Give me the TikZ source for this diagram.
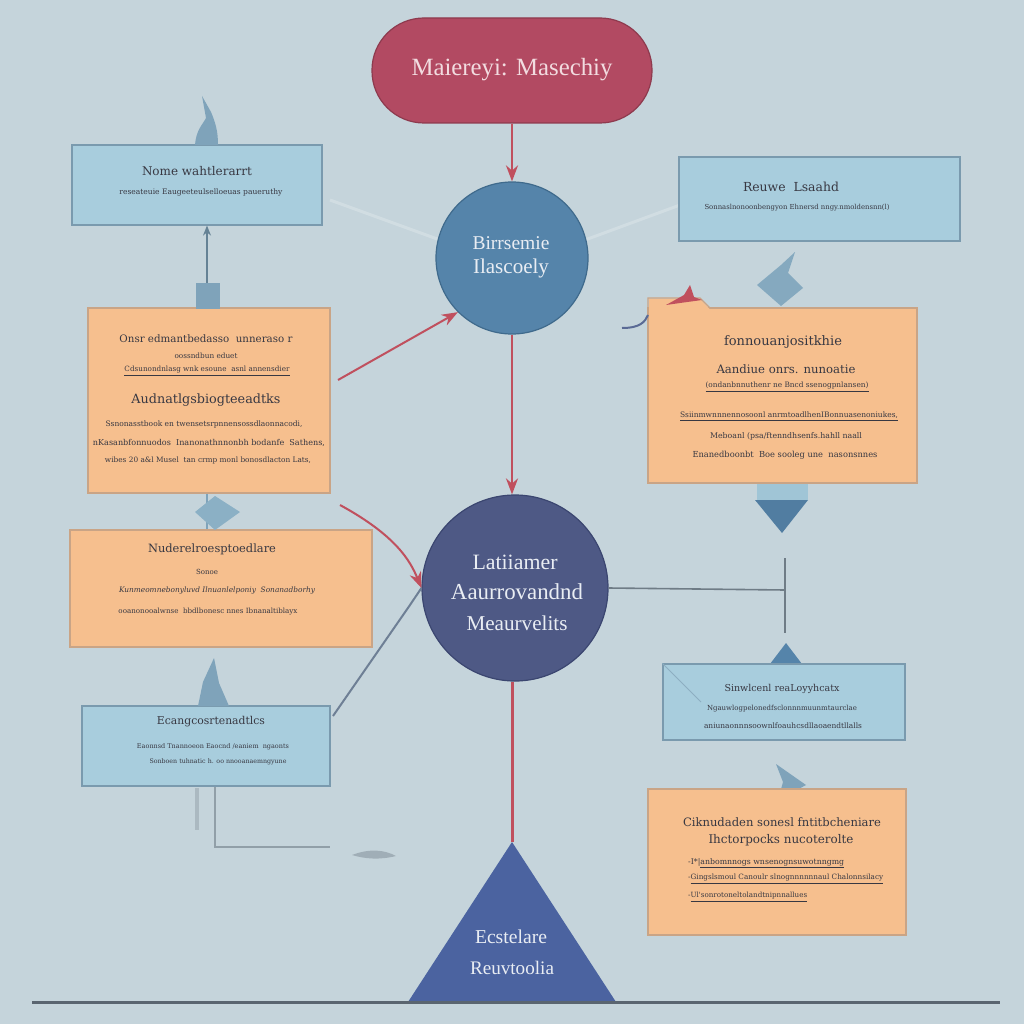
\documentclass[tikz,border=0pt]{standalone}
\usepackage{fontspec}
\setmainfont{Liberation Serif}
\newfontfamily\boxfont{DejaVu Serif}
\usetikzlibrary{arrows.meta,shapes.geometric,calc}
\definecolor{bg}{HTML}{C5D4DB}
\definecolor{pillc}{HTML}{B24A62}
\definecolor{pillb}{HTML}{8E3A4E}
\definecolor{pilltxt}{HTML}{F2DCE0}
\definecolor{circa}{HTML}{5584AA}
\definecolor{circab}{HTML}{3F6A8C}
\definecolor{circb}{HTML}{4E5985}
\definecolor{circbb}{HTML}{3B4670}
\definecolor{trif}{HTML}{4B63A0}
\definecolor{lblue}{HTML}{A8CDDD}
\definecolor{lbord}{HTML}{7A9AAE}
\definecolor{orng}{HTML}{F6BF8E}
\definecolor{obord}{HTML}{C9A486}
\definecolor{redl}{HTML}{C0505E}
\definecolor{txt}{HTML}{383842}
\definecolor{ltxt}{HTML}{E9EDF3}
\definecolor{deco}{HTML}{7FA3BA}
\definecolor{gline}{HTML}{6F7C86}
\definecolor{basec}{HTML}{5A6570}
\definecolor{glc}{HTML}{6E7F95}
\definecolor{bluec}{HTML}{5A6A95}
\newcommand{\fitwd}[2]{\resizebox{#1pt}{!}{#2}}
\tikzset{
  lbox/.style={draw=lbord, fill=lblue, line width=1.2pt, inner sep=0pt},
  obox/.style={draw=obord, fill=orng, line width=1.2pt, inner sep=0pt},
  ttl/.style={text=txt, font=\boxfont\fontsize{10}{12}\selectfont, inner sep=0pt},
  bdy/.style={text=txt, font=\boxfont\fontsize{7}{8}\selectfont, inner sep=0pt},
  ctxt/.style={text=ltxt, inner sep=0pt, font=\fontsize{18}{20}\selectfont},
  redarrow/.style={draw=redl, line width=2.4pt, -{Stealth[length=16pt,width=12pt]}},
  redline/.style={draw=redl, line width=3pt},
  grayline/.style={draw=gline, line width=1.6pt},
}
\begin{document}
\begin{tikzpicture}[x=1pt,y=-1pt]
\useasboundingbox (0,0) rectangle (1024,1024);
\fill[bg] (0,0) rectangle (1024,1024);

% faint lines from upper circle
\draw[white!35!bg, line width=3pt, opacity=0.6] (440,240) -- (330,200);
\draw[white!35!bg, line width=3pt, opacity=0.6] (585,240) -- (680,205);

% ---------- central column ----------
\node[draw=pillb, fill=pillc, line width=1.2pt, rounded corners=52pt, minimum width=280pt, minimum height=105pt] (pill) at (512,70.5) {};
\node[text=pilltxt, font=\fontsize{26}{28}\selectfont, inner sep=0pt] (pillt) at (512,70) {\fitwd{201}{Maiereyi: Masechiy}};

\node[circle, draw=circab, fill=circa, line width=1.2pt, minimum size=152pt, inner sep=0pt] (c1) at (512,258) {};
\node[ctxt] (c1a) at (511,243) {\fitwd{77}{Birrsemie}};
\node[ctxt] (c1b) at (511,268) {\fitwd{76}{Ilascoely}};

\node[circle, draw=circbb, fill=circb, line width=1.2pt, minimum size=186pt, inner sep=0pt] (c2) at (515,588) {};
\node[ctxt] (c2a) at (515,562) {\fitwd{85}{Latiiamer}};
\node[ctxt] (c2b) at (517,592) {\fitwd{132}{Aaurrovandnd}};
\node[ctxt] (c2c) at (517,623) {\fitwd{101}{Meaurvelits}};

\coordinate (triapex) at (512,842);
\coordinate (tril) at (408,1002);
\coordinate (trir) at (616,1002);
\fill[trif] (triapex) -- (trir) -- (tril) -- cycle;
\node[ctxt] (tra) at (511,937) {\fitwd{72}{Ecstelare}};
\node[ctxt] (trb) at (512,968) {\fitwd{84}{Reuvtoolia}};

\draw[line width=3pt, draw=basec] (32,1002) -- (1000,1002);

\draw[redarrow] (pill.south) -- (c1.north);
\draw[redarrow] (c1.south) -- (c1.south |- c2.north);
\draw[redline] (c2.south -| triapex) -- (triapex);

% ---------- left column ----------
\coordinate (lx) at (207,0);
\node[lbox, minimum width=250pt, minimum height=80pt] (l1) at (197,185) {};
\node[ttl] (l1t) at (197,171) {\fitwd{110}{Nome wahtlerarrt}};
\node[bdy] (l1b) at (201,192) {\fitwd{163}{reseateuie Eaugeeteulselloeuas paueruthy}};

\node[obox, minimum width=242pt, minimum height=185pt] (l2) at (209,400.5) {};
\node[ttl] (l2t1) at (206,339) {\fitwd{173}{Onsr edmantbedasso\ \ unneraso r}};
\node[bdy] (l2t2) at (206,356) {\fitwd{63}{oossndbun eduet}};
\node[bdy] (l2t3) at (207,371) {\fitwd{165}{\underline{Cdsunondnlasg wnk esoune\ \ asnl annensdier}}};
\node[ttl] (l2t4) at (206,400) {\fitwd{149}{Audnatlgsbiogteeadtks}};
\node[bdy] (l2t5) at (204,424) {\fitwd{197}{Ssnonasstbook en twensetsrpnnensossdlaonnacodi,}};
\node[bdy] (l2t6) at (209,443) {\fitwd{232}{nKasanbfonnuodos\ \ Inanonathnnonbh bodanfe\ \ Sathens,}};
\node[bdy] (l2t7) at (208,460) {\fitwd{206}{wibes 20 a\&l Musel\ \ tan crmp monl bonosdlacton Lats,}};

\node[obox, minimum width=302pt, minimum height=117pt] (l3) at (221,588.5) {};
\node[ttl] (l3t1) at (212,549) {\fitwd{128}{Nuderelroesptoedlare}};
\node[bdy] (l3t2) at (207,572) {\fitwd{22}{Sonoe}};
\node[bdy] (l3t3) at (217,591) {\fitwd{196}{\itshape Kunmeomnebonyluvd Ilnuanlelponiy\ \ Sonanadborhy}};
\node[bdy] (l3t4) at (208,612) {\fitwd{179}{ooanonooalwnse\ \ bbdlbonesc nnes Ibnanaltiblayx}};

\node[lbox, minimum width=248pt, minimum height=80pt] (l4) at (206,746) {};
\node[ttl] (l4t1) at (211,722) {\fitwd{108}{Ecangcosrtenadtlcs}};
\node[bdy] (l4t2) at (213,747) {\fitwd{152}{Eaonnsd Tnannoeon Eaocnd /eaniem\ \ ngaonts}};
\node[bdy] (l4t3) at (218,762) {\fitwd{137}{Sonboen tuhnatic h. oo nnooanaemngyune}};

% left decorations
\fill[deco] (195,145) .. controls (196,130) and (203,124) .. (206,118) -- (202,96) -- (211,112) .. controls (216,124) and (218,132) .. (218,145) -- cycle;
\draw[deco!80!black, line width=1.5pt, -{Stealth[length=10pt,width=8pt]}] (l2.north -| lx) -- (l1.south -| lx);
\fill[deco] (196,283) rectangle (220,309);
\draw[deco, line width=2pt] (l2.south -| lx) -- (l3.north -| lx);
\fill[deco!70!lblue] (195,512) -- (215,496) -- (240,512) -- (215,530) -- cycle;
\fill[deco] (198,706) -- (203,682) -- (214,658) -- (219,683) -- (229,706) -- cycle;
\coordinate (lb1) at (215,847);
\coordinate (lb2) at (330,847);
\draw[gline!60!bg, line width=1.4pt] (l4.south -| lb1) -- (lb1) -- (lb2);
\draw[gline!50!bg, line width=4pt, opacity=0.6] (197,788) -- (197,830);
\fill[gline!60!bg, opacity=0.7] (352,855) .. controls (370,848) and (385,850) .. (396,856) .. controls (380,860) and (365,859) .. cycle;

% left connectors to circles
\coordinate (ra1) at (338,380);
\draw[redarrow, line width=2pt] (ra1) -- (c1.south west);
\coordinate (ra2) at (340,505);
\draw[redarrow, line width=2pt] (ra2) .. controls (395,535) and (410,560) .. (c2.west);
\coordinate (gl1) at (333,716);
\draw[draw=glc, line width=2pt] (gl1) -- (410,605) -- (c2.west);

% ---------- right column ----------
\node[lbox, minimum width=281pt, minimum height=84pt] (r1) at (819.5,199) {};
\node[ttl] (r1t) at (791,187) {\fitwd{96}{Reuwe\ \ Lsaahd}};
\node[bdy] (r1b) at (797,208) {\fitwd{185}{Sonnaslnonoonbengyon Ehnersd nngy.nmoldensnn(l)}};

\fill[deco!85!lblue] (757,285) -- (781,265) -- (795,252) -- (788,273) -- (803,288) -- (781,306) -- cycle;

\node[obox, minimum width=269pt, minimum height=175pt] (r2) at (782.5,395.5) {};
\fill[orng] (649,298.6) -- (700,298.6) -- (710,309.5) -- (649,309.5) -- cycle;
\draw[obord, line width=1.2pt] (648,308) -- (648,298) -- (700,298) -- (710,308);
\fill[redl] (666,305) -- (684,295) -- (690,285) -- (694,297) -- (702,300) -- (680,303) -- cycle;
\draw[draw=bluec, line width=2pt] (622,328) .. controls (640,328) and (645,322) .. (648,315);
\node[ttl] (r2t1) at (783,342) {\fitwd{118}{fonnouanjositkhie}};
\node[ttl] (r2t2) at (786,369) {\fitwd{139}{Aandiue onrs. nunoatie}};
\node[bdy] (r2t3) at (787,387) {\fitwd{163}{\underline{(ondanbnnuthenr ne Bncd ssenogpnlansen)}}};
\node[bdy] (r2t4) at (789,416) {\fitwd{218}{\underline{Ssiinmwnnnennosoonl anrmtoadlhenIBonnuasenoniukes,}}};
\node[bdy] (r2t5) at (786,436) {\fitwd{152}{Meboanl (psa/ftenndhsenfs.hahll naall}};
\node[bdy] (r2t6) at (785,455) {\fitwd{185}{Enanedboonbt\ \ Boe sooleg une\ \ nasonsnnes}};

\fill[lblue!80!deco] (757,484) rectangle (808,500);
\coordinate (dt1) at (755,500);
\coordinate (dt2) at (808,500);
\coordinate (dt3) at (782,533);
\fill[circa!95!black] (dt1) -- (dt2) -- (dt3) -- cycle;

\coordinate (rj) at (785,590);
\draw[grayline] (c2.east) -- (rj);
\draw[grayline] (785,558) -- (785,633);

\coordinate (ut1) at (770,664);
\coordinate (ut2) at (802,664);
\coordinate (ut3) at (786,643);
\fill[circa] (ut1) -- (ut2) -- (ut3) -- cycle;

\node[lbox, minimum width=242pt, minimum height=76pt] (r3) at (784,702) {};
\draw[lbord!60!lblue, line width=1pt] (r3.north west) -- (701,702);
\node[ttl] (r3t) at (782,689) {\fitwd{115}{Sinwlcenl reaLoyyhcatx}};
\node[bdy] (r3b) at (782,709) {\fitwd{150}{Ngauwlogpelonedfsclonnnmuunmtaurclae}};
\node[bdy] (r3c) at (783,726) {\fitwd{158}{aniunaonnnsoownlfoauhcsdllaoaendtllalls}};

\fill[deco] (776,764) -- (806,785) -- (778,800) -- (783,782) -- cycle;

\node[obox, minimum width=258pt, minimum height=146pt] (r4) at (777,862) {};
\node[ttl] (r4t1) at (782,822) {\fitwd{198}{Ciknudaden sonesl fntitbcheniare}};
\node[ttl] (r4t2) at (781,840) {\fitwd{145}{Ihctorpocks nucoterolte}};
\node[bdy, anchor=west] (r4t3) at (688,863) {\fitwd{156}{-I*|\underline{anbomnnogs wnsenognsuwotnngmg}}};
\node[bdy, anchor=west] (r4t4) at (688,879) {\fitwd{195}{-\underline{Gingslsmoul Canoulr slnognnnnnnaul Chalonnsilacy}}};
\node[bdy, anchor=west] (r4t5) at (688,897) {\fitwd{119}{-\underline{Ul'sonrotoneltolandtnipnnallues}}};
\end{tikzpicture}
\end{document}
